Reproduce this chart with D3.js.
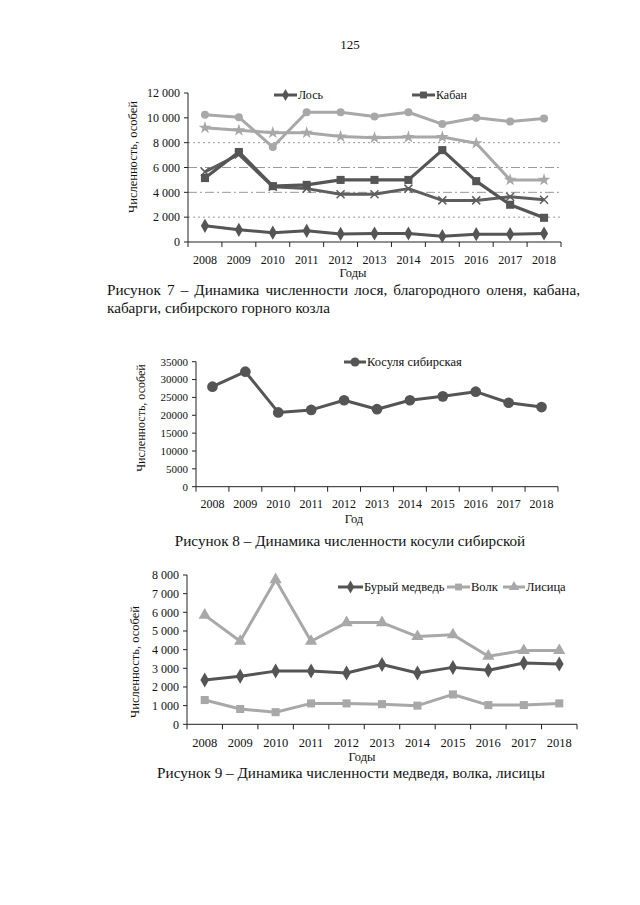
<!DOCTYPE html>
<html><head><meta charset="utf-8">
<script src="https://cdn.jsdelivr.net/npm/d3@7"></script>
<style>
body{margin:0;background:#fff;}
#page{position:relative;width:640px;height:905px;background:#fff;overflow:hidden;font-family:"Liberation Serif","Times New Roman",serif;}
svg{position:absolute;left:0;top:0;}
.cap{position:absolute;font-family:"Liberation Serif",serif;font-size:15.2px;line-height:18px;color:#111;}
</style></head>
<body><div id="page"></div>
<script>
const years = ["2008","2009","2010","2011","2012","2013","2014","2015","2016","2017","2018"];
// Figure 7
const elk       = [1300, 980, 750, 900, 650, 680, 680, 470, 630, 630, 680];
const boar      = [5150, 7250, 4500, 4600, 5000, 5000, 5000, 7400, 4900, 3000, 1950];
const muskDeer  = [5650, 7050, 4450, 4300, 3850, 3850, 4300, 3350, 3350, 3650, 3400];
const redDeer   = [10250, 10050, 7650, 10450, 10450, 10100, 10450, 9500, 10000, 9700, 9950];
const ibex      = [9200, 9000, 8800, 8800, 8500, 8400, 8450, 8450, 7950, 5000, 5000];
const ticks7 = [0, 2000, 4000, 6000, 8000, 10000, 12000];
const grid7 = [2000, 4000, 6000, 8000];
// Figure 8
const roeDeer = [28000, 32200, 20800, 21500, 24200, 21700, 24200, 25300, 26600, 23500, 22300];
const ticks8 = [0, 5000, 10000, 15000, 20000, 25000, 30000, 35000];
// Figure 9
const bear = [2380, 2570, 2850, 2850, 2750, 3200, 2750, 3050, 2900, 3280, 3230];
const wolf = [1300, 820, 650, 1120, 1120, 1080, 1000, 1600, 1030, 1030, 1120];
const fox  = [5850, 4450, 7750, 4450, 5450, 5450, 4700, 4800, 3650, 3950, 3950];
const ticks9 = [0, 1000, 2000, 3000, 4000, 5000, 6000, 7000, 8000];

const DARK = "#555", DARK2 = "#5e5e5e", LIGHT = "#a8a8a8";
const FONT = "'Liberation Serif','Times New Roman',serif";

const page = d3.select("#page");
const svg = page.append("svg").attr("width", 640).attr("height", 905);

svg.append("text").attr("x", 350).attr("y", 49).attr("text-anchor", "middle")
  .attr("font-family", FONT).attr("font-size", 13).attr("fill", "#111").text("125");

const fmtSpace = v => d3.format(",")(v).replace(/,/g, " ");

function drawMarker(g, type, x, y, color, size) {
  if (type === "x") {
    const s = size / 2;
    g.append("path").attr("d", `M${x-s},${y-s}L${x+s},${y+s}M${x-s},${y+s}L${x+s},${y-s}`)
      .attr("stroke", color).attr("stroke-width", 1.5).attr("fill", "none");
    return;
  }
  const map = {diamond: d3.symbolDiamond, square: d3.symbolSquare, circle: d3.symbolCircle,
               triangle: d3.symbolTriangle, star: d3.symbolStar};
  g.append("path").attr("d", d3.symbol().type(map[type]).size(size * size * 0.9)())
    .attr("transform", `translate(${x},${y})`).attr("fill", color);
}

function chart(cfg) {
  const g = svg.append("g");
  const x = d3.scaleBand().domain(years).range([cfg.x0, cfg.x1]);
  const y = d3.scaleLinear().domain([0, cfg.ymax]).range([cfg.y0, cfg.y1]);
  // gridlines
  (cfg.grid || []).forEach(v => {
    g.append("line").attr("x1", cfg.x0).attr("x2", cfg.x1).attr("y1", y(v)).attr("y2", y(v))
      .attr("stroke", "#9a9a9a").attr("stroke-width", 1)
      .attr("stroke-dasharray", (v === 4000 || v === 6000) ? "9,3,2,3" : "2,3");
  });
  // y axis
  g.append("line").attr("x1", cfg.x0).attr("x2", cfg.x0).attr("y1", y(0)).attr("y2", y(cfg.ymax))
    .attr("stroke", "#222").attr("stroke-width", 1);
  cfg.yticks.forEach(v => {
    g.append("line").attr("x1", cfg.x0 - 4).attr("x2", cfg.x0).attr("y1", y(v)).attr("y2", y(v))
      .attr("stroke", "#222");
    g.append("text").attr("x", cfg.x0 - 8).attr("y", y(v)).attr("dy", "0.35em")
      .attr("text-anchor", "end").attr("font-family", FONT).attr("font-size", cfg.yfs)
      .attr("fill", "#111").text(cfg.yfmt(v));
  });
  // x axis
  g.append("line").attr("x1", cfg.x0).attr("x2", cfg.x1).attr("y1", y(0)).attr("y2", y(0))
    .attr("stroke", "#222").attr("stroke-width", 1);
  years.concat(["end"]).forEach((d, i) => {
    const xx = i < years.length ? x(d) : cfg.x1;
    g.append("line").attr("x1", xx).attr("x2", xx).attr("y1", y(0)).attr("y2", y(0) + 5).attr("stroke", "#222");
  });
  years.forEach(d => {
    g.append("text").attr("x", x(d) + x.bandwidth() / 2).attr("y", cfg.xlabY)
      .attr("text-anchor", "middle").attr("font-family", FONT).attr("font-size", cfg.xfs)
      .attr("fill", "#111").text(d);
  });
  // axis titles
  g.append("text").attr("transform", `translate(${cfg.ytX},${cfg.ytY}) rotate(-90)`)
    .attr("text-anchor", "middle").attr("dy", "0.35em").attr("font-family", FONT)
    .attr("font-size", cfg.ytfs).attr("fill", "#111").text("Численность, особей");
  g.append("text").attr("x", cfg.xtX).attr("y", cfg.xtY).attr("text-anchor", "middle")
    .attr("font-family", FONT).attr("font-size", 12.5).attr("fill", "#111").text(cfg.xtitle);
  // series
  const line = d3.line().x((d, i) => x(years[i]) + x.bandwidth() / 2).y(d => y(d));
  cfg.series.forEach(s => {
    g.append("path").attr("d", line(s.values)).attr("fill", "none")
      .attr("stroke", s.color).attr("stroke-width", s.width || 3).attr("stroke-linejoin", "round");
    s.values.forEach((v, i) => drawMarker(g, s.marker, x(years[i]) + x.bandwidth() / 2, y(v), s.mcolor || s.color, s.msize));
  });
  // legend
  cfg.legend.forEach(l => {
    g.append("line").attr("x1", l.x).attr("x2", l.x + l.w).attr("y1", l.y).attr("y2", l.y)
      .attr("stroke", l.s.color).attr("stroke-width", 3);
    drawMarker(g, l.s.marker, l.x + l.w / 2, l.y, l.s.mcolor || l.s.color, l.s.msize * 0.85);
    g.append("text").attr("x", l.x + l.w + 1).attr("y", l.y).attr("dy", "0.35em")
      .attr("font-family", FONT).attr("font-size", cfg.lfs).attr("fill", "#111").text(l.s.name);
  });
}

// Figure 7
const s7 = [
  {name: "благородный олень", values: redDeer, color: LIGHT, marker: "circle", msize: 7.5},
  {name: "сибирский горный козел", values: ibex, color: LIGHT, marker: "star", msize: 7.5},
  {name: "кабарга", values: muskDeer, color: DARK2, marker: "x", msize: 8},
  {name: "Кабан", values: boar, color: DARK, marker: "square", msize: 8.5, width: 3.2},
  {name: "Лось", values: elk, color: DARK, marker: "diamond", msize: 8}
];
chart({x0: 188, x1: 561, y0: 242, y1: 93, ymax: 12000, yticks: ticks7, grid: grid7,
  yfmt: fmtSpace, yfs: 12, xfs: 12, xlabY: 264, ytX: 133, ytY: 157, ytfs: 12.5,
  xtitle: "Годы", xtX: 353, xtY: 277, lfs: 12,
  series: s7,
  legend: [{s: s7[4], x: 274, y: 95, w: 23}, {s: s7[3], x: 412, y: 95, w: 23}]});

// Figure 8
const s8 = [{name: "Косуля сибирская", values: roeDeer, color: DARK, marker: "circle", msize: 10}];
chart({x0: 196, x1: 558, y0: 486.7, y1: 361.7, ymax: 35000, yticks: ticks8,
  yfmt: v => String(v), yfs: 11, xfs: 12, xlabY: 508, ytX: 141, ytY: 418, ytfs: 12,
  xtitle: "Год", xtX: 354, xtY: 523, lfs: 12.5,
  series: s8,
  legend: [{s: s8[0], x: 344, y: 362, w: 22}]});

// Figure 9
const s9 = [
  {name: "Лисица", values: fox, color: LIGHT, marker: "triangle", msize: 8.5},
  {name: "Волк", values: wolf, color: LIGHT, marker: "square", msize: 8.5},
  {name: "Бурый медведь", values: bear, color: DARK, marker: "diamond", msize: 8.5}
];
chart({x0: 187, x1: 577, y0: 724.3, y1: 575, ymax: 8000, yticks: ticks9,
  yfmt: fmtSpace, yfs: 12, xfs: 12.5, xlabY: 747, ytX: 135, ytY: 662, ytfs: 12.5,
  xtitle: "Годы", xtX: 362, xtY: 761, lfs: 12.5,
  series: s9,
  legend: [{s: s9[2], x: 338, y: 587, w: 25}, {s: s9[1], x: 447, y: 587, w: 23}, {s: s9[0], x: 503, y: 587, w: 22}]});

// captions
page.append("div").attr("class", "cap")
  .style("left", "107px").style("top", "281px").style("width", "473px").style("text-align", "justify")
  .text("Рисунок 7 – Динамика численности лося, благородного оленя, кабана, кабарги, сибирского горного козла");
page.append("div").attr("class", "cap")
  .style("left", "0px").style("top", "532px").style("width", "700px").style("text-align", "center")
  .text("Рисунок 8 – Динамика численности косули сибирской");
page.append("div").attr("class", "cap")
  .style("left", "0px").style("top", "764px").style("width", "702px").style("text-align", "center")
  .text("Рисунок 9 – Динамика численности медведя, волка, лисицы");
</script></body></html>
